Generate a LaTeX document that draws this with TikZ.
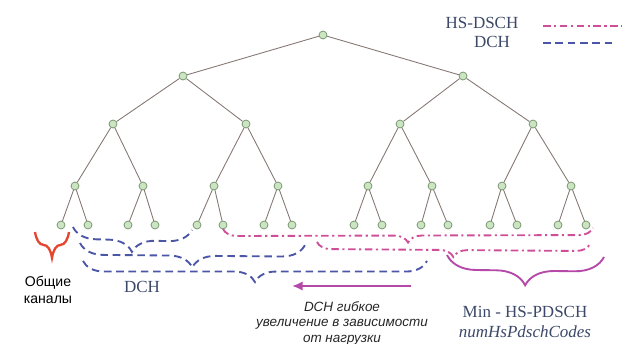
\documentclass[tikz,border=0pt]{standalone}
\usepackage{fontspec}
\setmainfont{Liberation Serif}
\newfontfamily\sansru{Liberation Sans}
\usetikzlibrary{arrows.meta,decorations.pathreplacing}

\definecolor{edgegray}{HTML}{857773}
\definecolor{nodefill}{HTML}{CBE5C3}
\definecolor{nodeline}{HTML}{708F68}
\definecolor{dchblue}{HTML}{4B56A6}
\definecolor{hspink}{HTML}{CF4E9A}
\definecolor{minpink}{HTML}{B449A8}
\definecolor{commred}{HTML}{E6452F}
\definecolor{labelblue}{HTML}{3C4868}

\tikzset{
	code/.style={circle, draw=nodeline, fill=nodefill, line width=0.6pt, inner sep=0pt, minimum size=6.8pt},
	branch/.style={draw=edgegray, line width=0.75pt},
	dchline/.style={dchblue, line width=1.6pt, dash pattern=on 6.5pt off 4pt},
	hsline/.style={hspink, line width=1.6pt, dash pattern=on 6.5pt off 3pt on 1.8pt off 3pt},
	curly/.style={decorate, decoration={brace, mirror, amplitude=#1}},
	serif/.style={labelblue, font=\fontsize{14.5}{17}\selectfont},
}

\begin{document}
\begin{tikzpicture}[x=0.03cm, y=-0.03cm]
			\useasboundingbox (0, 0) rectangle (629, 344);
			
			% code tree
			\node[code] (r) at (323, 35) {};
			\node[code] (a1) at (183, 76) {};
			\node[code] (a2) at (463, 76) {};
			\node[code] (b1) at (113, 124) {};
			\node[code] (b2) at (246, 124) {};
			\node[code] (b3) at (400, 124) {};
			\node[code] (b4) at (533, 124) {};
			\node[code] (c1) at (75, 186) {};
			\node[code] (c2) at (143, 186) {};
			\node[code] (c3) at (214, 186) {};
			\node[code] (c4) at (278, 186) {};
			\node[code] (c5) at (368, 186) {};
			\node[code] (c6) at (432, 186) {};
			\node[code] (c7) at (502, 186) {};
			\node[code] (c8) at (571, 186) {};
			\node[code] (d1) at (61, 225) {};
			\node[code] (d2) at (88, 225) {};
			\node[code] (d3) at (128, 225) {};
			\node[code] (d4) at (155, 225) {};
			\node[code] (d5) at (197, 225) {};
			\node[code] (d6) at (223, 225) {};
			\node[code] (d7) at (264, 225) {};
			\node[code] (d8) at (292, 225) {};
			\node[code] (d9) at (354, 225) {};
			\node[code] (d10) at (382, 225) {};
			\node[code] (d11) at (421, 225) {};
			\node[code] (d12) at (448, 225) {};
			\node[code] (d13) at (490, 225) {};
			\node[code] (d14) at (517, 225) {};
			\node[code] (d15) at (558, 225) {};
			\node[code] (d16) at (586, 225) {};
			
			\draw[branch] (a1) -- (r) -- (a2);
			\draw[branch] (b1) -- (a1) -- (b2);
			\draw[branch] (b3) -- (a2) -- (b4);
			\draw[branch] (c1) -- (b1) -- (c2);
			\draw[branch] (c3) -- (b2) -- (c4);
			\draw[branch] (c5) -- (b3) -- (c6);
			\draw[branch] (c7) -- (b4) -- (c8);
			\draw[branch] (d1) -- (c1) -- (d2);
			\draw[branch] (d3) -- (c2) -- (d4);
			\draw[branch] (d5) -- (c3) -- (d6);
			\draw[branch] (d7) -- (c4) -- (d8);
			\draw[branch] (d9) -- (c5) -- (d10);
			\draw[branch] (d11) -- (c6) -- (d12);
			\draw[branch] (d13) -- (c7) -- (d14);
			\draw[branch] (d15) -- (c8) -- (d16);
			
			% legend
			\node[serif] (lghs) at (482, 23) {HS-DSCH};
			\node[serif] (lgdch) at (492, 42) {DCH};
			\coordinate (hsa) at (543, 26);
			\coordinate (hsb) at (622, 26);
			\coordinate (dcha) at (543, 43);
			\coordinate (dchb) at (616, 43);
			\draw[hsline] (hsa) -- (hsb);
			\draw[dchline] (dcha) -- (dchb);
			
			% braces under the leaves
			\coordinate (cm1) at (35, 232);
			\coordinate (cm2) at (69, 232);
			\draw[commred, line width=2pt, curly=22pt] (cm1) -- (cm2);
			
			\coordinate (da1) at (73, 227);
			\coordinate (da2) at (192, 230);
			\coordinate (db1) at (80, 243);
			\coordinate (db2) at (305, 245);
			\coordinate (dc1) at (83, 261);
			\coordinate (dc2) at (427, 261);
			\draw[dchline, curly=20pt] (da1) -- (da2);
			\draw[dchline, curly=20pt] (db1) -- (db2);
			\draw[dchline, curly=18pt] (dc1) -- (dc2);
			
			\coordinate (ha1) at (223, 229);
			\coordinate (ha2) at (593, 228);
			\coordinate (hb1) at (317, 242);
			\coordinate (hb2) at (590, 244);
			\draw[hsline, curly=12pt] (ha1) -- (ha2);
			\draw[hsline, curly=12pt] (hb1) -- (hb2);
			
			\coordinate (mp1) at (447, 255);
			\coordinate (mp2) at (604, 257);
			\draw[minpink, line width=1.6pt, curly=25pt] (mp1) -- (mp2);
			
			% labels
			\node[align=center, font=\sansru\fontsize{12}{14.5}\selectfont] (common) at (48, 290) {Общие\\каналы};
			\node[serif] (dchlab) at (142, 287) {DCH};
			\node[serif, align=center] (minlab) at (525, 322) {Min - HS-PDSCH\\\textit{numHsPdschCodes}};
			\node[align=center, text=black!85, font=\sansru\itshape\fontsize{11.5}{13.2}\selectfont] (grow) at (342, 323) {DCH гибкое\\увеличение в зависимости\\от нагрузки};
			
			\coordinate (arra) at (411, 286);
			\coordinate (arrb) at (292, 286);
			\draw[minpink, line width=2.2pt, -{Latex[length=9pt, width=8pt]}] (arra) -- (arrb);
\end{tikzpicture}
\end{document}
